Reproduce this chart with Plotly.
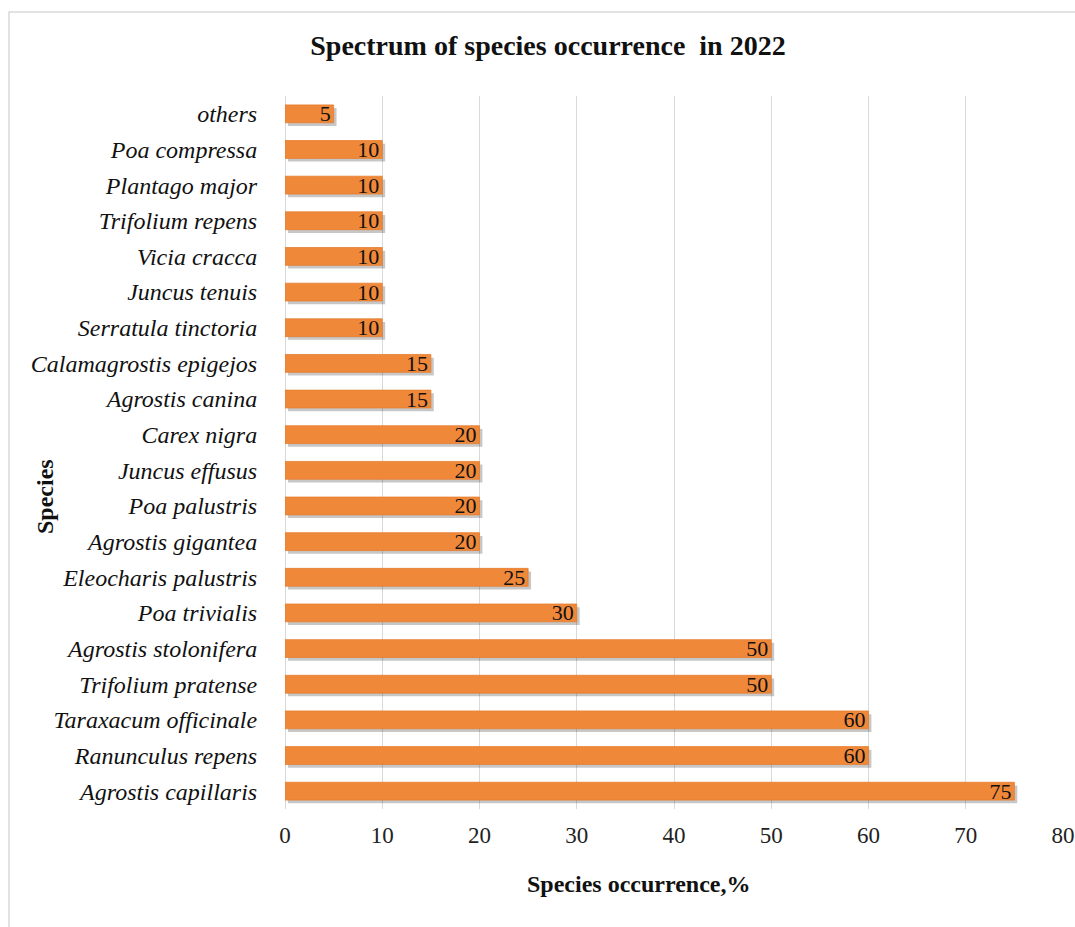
import plotly.graph_objects as go

species = ["others", "Poa compressa", "Plantago major", "Trifolium repens", "Vicia cracca",
           "Juncus tenuis", "Serratula tinctoria", "Calamagrostis epigejos", "Agrostis canina",
           "Carex nigra", "Juncus effusus", "Poa palustris", "Agrostis gigantea",
           "Eleocharis palustris", "Poa trivialis", "Agrostis stolonifera", "Trifolium pratense",
           "Taraxacum officinale", "Ranunculus repens", "Agrostis capillaris"]
occurrence = [5, 10, 10, 10, 10, 10, 10, 15, 15, 20, 20, 20, 20, 25, 30, 50, 50, 60, 60, 75]
x_ticks = [0, 10, 20, 30, 40, 50, 60, 70, 80]

FONT = "Liberation Serif, Times New Roman, serif"
W, H = 1075, 927
L, R, T, B = 285, 12, 96, 118
PW, PH = W - L - R, H - T - B

fig = go.Figure()
# soft shadow behind bars
fig.add_trace(go.Bar(
    y=species, x=occurrence, orientation="h", base=0.3,
    marker=dict(color="rgba(0,0,0,0.22)", line=dict(width=0)),
    width=0.5, offset=-0.25 + 0.09,
    hoverinfo="skip", showlegend=False,
))
fig.add_trace(go.Bar(
    y=species, x=occurrence, orientation="h",
    marker=dict(color="#F0883A", line=dict(color="#E57D30", width=0.8)),
    width=0.5, offset=-0.25,
    text=[str(v) for v in occurrence], textposition="inside", insidetextanchor="end",
    textangle=0,
    textfont=dict(family=FONT, size=22, color="#111111"),
    constraintext="none",
    showlegend=False,
))

fig.update_layout(
    width=W, height=H,
    margin=dict(l=L, r=R, t=T, b=B),
    paper_bgcolor="white", plot_bgcolor="white",
    barmode="overlay",
    font=dict(family=FONT, color="#111111"),
    title=dict(text="<b>Spectrum of species occurrence  in 2022</b>", x=548 / W, xanchor="center",
               y=1 - 45 / H, yanchor="middle", font=dict(family=FONT, size=28, color="#111111")),
    xaxis=dict(range=[0, 80], tickvals=x_ticks, showgrid=True, gridcolor="#d9d9d9", gridwidth=1.3,
               zeroline=True, zerolinecolor="#d9d9d9", zerolinewidth=1.3, showline=False,
               automargin=False, ticklabelstandoff=10,
               tickfont=dict(family=FONT, size=23, color="#222222"), ticks="", ticklen=0),
    yaxis=dict(categoryorder="array", categoryarray=species, autorange="reversed",
               automargin=False,
               tickfont=dict(family=FONT, size=24, color="#111111", style="italic"),
               ticks="outside", ticklen=22, tickcolor="rgba(0,0,0,0)", showgrid=False, showline=False),
    annotations=[
        dict(text="<b>Species occurrence,%</b>", xref="paper", yref="paper",
             x=(639 - L) / PW, y=-(884 - (T + PH)) / PH, xanchor="center", yanchor="middle",
             showarrow=False, font=dict(family=FONT, size=24, color="#111111")),
        dict(text="<b>Species</b>", xref="paper", yref="paper", textangle=-90,
             x=(45 - L) / PW, y=(T + PH - 497) / PH, xanchor="center", yanchor="middle",
             showarrow=False, font=dict(family=FONT, size=24, color="#111111")),
    ],
    shapes=[dict(type="rect", xref="paper", yref="paper", x0=(9 - L) / PW, x1=1.2,
                 y0=-0.3, y1=(T + PH - 12) / PH, line=dict(color="#d9d9d9", width=1.5), layer="below")],
)

fig.write_html("out.html")
